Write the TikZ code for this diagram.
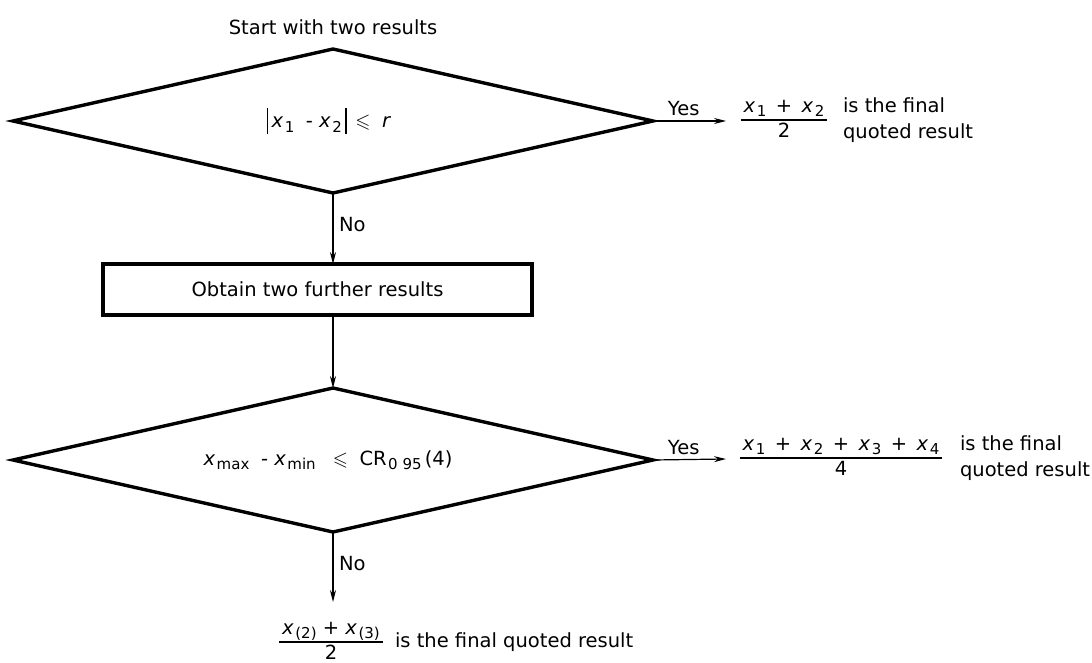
\documentclass[tikz,border=0pt]{standalone}
\usepackage{amssymb}
\usepackage{fontspec}
\setmainfont{DejaVu Sans}
\usetikzlibrary{shapes.geometric,arrows.meta}
\newcommand\lsub[1]{\hspace{1.5pt}\raisebox{-0.4ex}{\fontsize{15}{15}\selectfont #1}}
\newcommand\ix{\textit{x}}
\newcommand\vbar{\rule[-6pt]{1.4pt}{26pt}}
\newcommand\frc[2]{\begin{tabular}{@{\hspace{3pt}}c@{\hspace{3pt}}}#1\\\hline #2\end{tabular}}
\setlength\arrayrulewidth{1.4pt}
\begin{document}
\begin{tikzpicture}[x=1pt,y=-1pt,
  every node/.style={font=\fontsize{19.5}{26}\selectfont, inner sep=0pt, outer sep=0pt},
  dec/.style={diamond, draw, line width=3.4pt, minimum width=640pt, minimum height=144pt, inner sep=0pt, line join=miter},
  procbox/.style={rectangle, draw, line width=3.4pt, minimum width=429pt, minimum height=51pt},
  arr/.style={line width=1.2pt, -{Stealth[length=12pt,width=6pt]}},
  lbl/.style={font=\fontsize{19.5}{22}\selectfont},
  frac/.style={font=\fontsize{19.5}{24}\selectfont},
]
\useasboundingbox (0,0) rectangle (1092,663);

\node (start) at (333,27) {Start with two results};

\node[dec] (d1) at (333,121) {};
\node (c1) at (329,121) {\vbar\,\ix\lsub{1}\; - \ix\lsub{2}\,\vbar\;\,$\leqslant$\; \textit{r}};

\node[procbox] (b) at (317.5,289.5) {Obtain two further results};

\node[dec] (d2) at (333,460) {};
\node (c2) at (328,460) {\ix\lsub{max}\; - \ix\lsub{min}\;\; $\leqslant$\; CR\lsub{0 95}\,(4)};

% result 1
\coordinate (y1) at (726,121);
\node[frac] (f1) at (784,120) {\frc{\ix\lsub{1} \,+\, \ix\lsub{2}}{2}};
\node[anchor=west, align=left] (t1) at (843,120) {is the final\\quoted result};

% result 2
\coordinate (y2) at (726,459);
\node[frac] (f2) at (841,458) {\frc{\ix\lsub{1} \,+\, \ix\lsub{2} \,+\, \ix\lsub{3} \,+\, \ix\lsub{4}}{4}};
\node[anchor=west, align=left] (t2) at (960,458) {is the final\\quoted result};

% result 3
\coordinate (n2) at (333,602);
\node[frac] (f3) at (331,642) {\frc{\ix\lsub{(2)} + \ix\lsub{(3)}}{2}};
\node[anchor=west] (t3) at (395,642) {is the final quoted result};

% connectors
\draw[arr] (d1.east) -- node[lbl, above=5pt, pos=0.42] {Yes} (y1);
\draw[arr] (d1.south) -- node[lbl, right=6pt, pos=0.45] {No} (d1.south |- b.north);
\draw[arr] (d1.south |- b.south) -- (d2.north);
\draw[arr] (d2.east) -- node[lbl, above=5pt, pos=0.42] {Yes} (y2);
\draw[arr] (d2.south) -- node[lbl, right=6pt, pos=0.45] {No} (n2);
\end{tikzpicture}
\end{document}
